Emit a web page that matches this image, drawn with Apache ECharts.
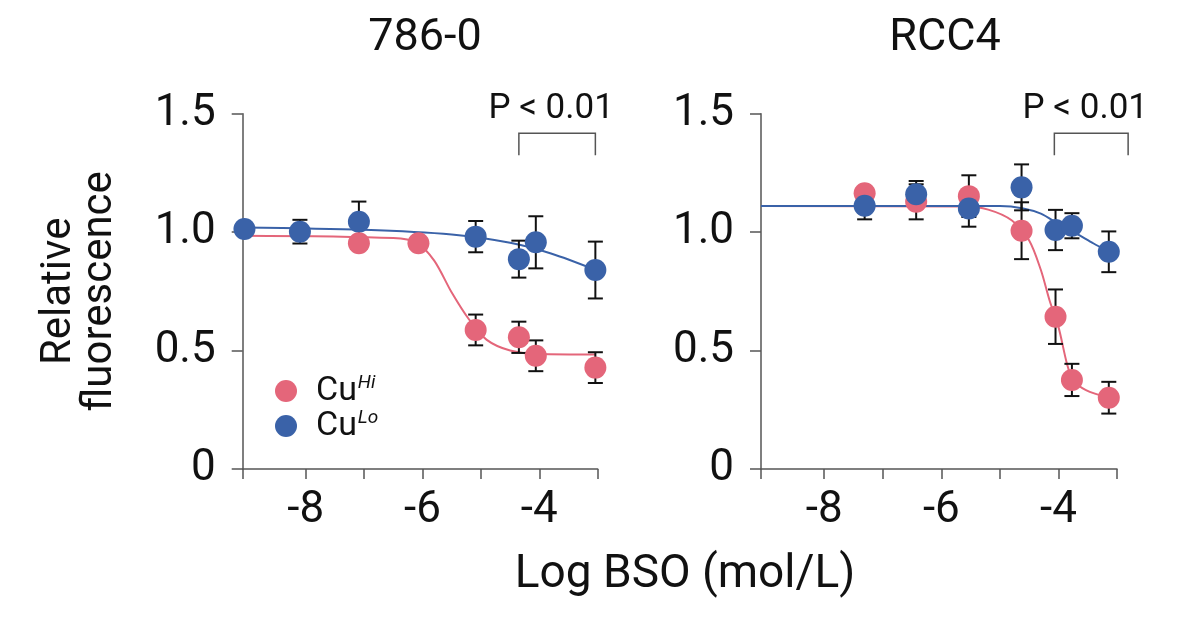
<!DOCTYPE html>
<html>
<head>
<meta charset="UTF-8">
<title>BSO dose response</title>
<script type="text/javascript" src="https://cdn.jsdelivr.net/npm/echarts@6/dist/echarts.min.js"></script>
<style>
  html, body { margin: 0; padding: 0; background: #fff; }
  #chart { width: 1200px; height: 623px; }
</style>
</head>
<body>
<div id="chart"></div>
<script type="text/javascript">
// ---- data ----
var xMin = -9.08, xMax = -3;
var xTicks = [-9.08, -8, -7, -6, -5, -4, -3];
var xLabels = [-8, -6, -4];

// 786-0 panel
var lo786X = [-9.05, -8.1, -7.09, -5.09, -4.35, -4.06, -3.04];
var lo786Y = [1.013, 1.002, 1.044, 0.981, 0.886, 0.957, 0.84];
var lo786Err = [0, 0.05, 0.085, 0.066, 0.078, 0.11, 0.12];
var hi786X = [-7.09, -6.07, -5.09, -4.35, -4.06, -3.04];
var hi786Y = [0.953, 0.953, 0.587, 0.556, 0.478, 0.428];
var hi786Err = [0, 0, 0.065, 0.066, 0.065, 0.065];
var lo786FitX = [-9.08, -7, -5.5, -4.5, -3.8, -3.03];
var lo786FitY = [1.02, 1.01, 0.99, 0.955, 0.91, 0.84];
var hi786FitX = [-9.08, -6.5, -6.1, -5.8, -5.5, -5.2, -4.9, -4.5, -4.0, -3.03];
var hi786FitY = [0.985, 0.975, 0.955, 0.88, 0.745, 0.63, 0.545, 0.5, 0.485, 0.483];

// RCC4 panel
var loRccX = [-7.31, -6.43, -5.53, -4.63, -4.05, -3.77, -3.14];
var loRccY = [1.111, 1.16, 1.1, 1.189, 1.009, 1.027, 0.917];
var loRccErr = [0.057, 0.056, 0.077, 0.097, 0.085, 0.053, 0.086];
var hiRccX = [-7.31, -6.43, -5.53, -4.63, -4.05, -3.77, -3.14];
var hiRccY = [1.164, 1.128, 1.152, 1.006, 0.643, 0.376, 0.301];
var hiRccErr = [0.023, 0.074, 0.088, 0.12, 0.115, 0.068, 0.067];
var loRccFitX = [-9.08, -5.0, -4.6, -4.3, -4.0, -3.7, -3.4, -3.14];
var loRccFitY = [1.11, 1.11, 1.1, 1.078, 1.035, 0.995, 0.952, 0.917];
var hiRccFitX = [-9.08, -5.6, -5.2, -4.8, -4.5, -4.3, -4.15, -4.0, -3.85, -3.75, -3.53, -3.14];
var hiRccFitY = [1.11, 1.108, 1.095, 1.05, 0.965, 0.84, 0.71, 0.6, 0.44, 0.375, 0.333, 0.301];

// significance brackets: [xStart, xEnd, yTop, yLeg, yText]
var p786 = [-4.35, -3.04, 1.417, 1.325, 1.52];
var pRcc = [-4.07, -2.81, 1.417, 1.325, 1.52];
var pText = 'P < 0.01';

var RED = '#e4667a';
var BLUE = '#3a62a8';
var FONT = 'Roboto';

function zip(xs, ys) {
  return xs.map(function (x, i) { return [x, ys[i]]; });
}
function zip3(xs, ys, es) {
  return xs.map(function (x, i) { return [x, ys[i], es[i]]; });
}

var chart = echarts.init(document.getElementById('chart'));

function xAxisFor(idx) {
  return {
    gridIndex: idx, type: 'value', min: xMin, max: xMax,
    axisLine: { show: true, lineStyle: { color: '#555', width: 1.5 } },
    axisTick: { show: true, length: 10, customValues: xTicks, lineStyle: { color: '#555', width: 1.5 } },
    axisLabel: { customValues: xLabels, margin: 20, fontSize: 44, color: '#111', fontFamily: FONT },
    splitLine: { show: false }
  };
}
function yAxisFor(idx, name) {
  return {
    gridIndex: idx, type: 'value', min: 0, max: 1.5, interval: 0.5,
    name: name, nameLocation: 'middle', nameGap: 122, nameRotate: 90,
    nameTextStyle: { fontSize: 42, lineHeight: 41, color: '#111', fontFamily: FONT },
    axisLine: { show: true, lineStyle: { color: '#555', width: 1.5 } },
    axisTick: { show: true, length: 11, lineStyle: { color: '#555', width: 1.5 } },
    axisLabel: {
      margin: 27, fontSize: 44, color: '#111', fontFamily: FONT,
      formatter: function (v) { return v === 0 ? '0' : v.toFixed(1); }
    },
    splitLine: { show: false }
  };
}

function errorBars(idx, data, z) {
  return {
    type: 'custom', xAxisIndex: idx, yAxisIndex: idx, z: z, silent: true,
    data: data,
    renderItem: function (params, api) {
      var e = api.value(2);
      if (!e) return null;
      var top = api.coord([api.value(0), api.value(1) + e]);
      var bot = api.coord([api.value(0), api.value(1) - e]);
      var w = 7.5;
      var st = { stroke: '#111', lineWidth: 2 };
      return {
        type: 'group', children: [
          { type: 'line', shape: { x1: top[0], y1: top[1], x2: bot[0], y2: bot[1] }, style: st },
          { type: 'line', shape: { x1: top[0] - w, y1: top[1], x2: top[0] + w, y2: top[1] }, style: st },
          { type: 'line', shape: { x1: bot[0] - w, y1: bot[1], x2: bot[0] + w, y2: bot[1] }, style: st }
        ]
      };
    }
  };
}

function bracket(idx, p) {
  return {
    type: 'custom', xAxisIndex: idx, yAxisIndex: idx, clip: false, silent: true, z: 5,
    data: [p],
    renderItem: function (params, api) {
      var a = api.coord([api.value(0), api.value(2)]);
      var b = api.coord([api.value(1), api.value(2)]);
      var leg = api.coord([api.value(0), api.value(3)])[1];
      var ty = api.coord([api.value(0), api.value(4)])[1];
      var st = { stroke: '#555', lineWidth: 1.5, fill: null };
      return {
        type: 'group', children: [
          { type: 'polyline', shape: { points: [[a[0], leg], a, b, [b[0], leg]] }, style: st },
          { type: 'text', x: (a[0] + b[0]) / 2 - 6, y: ty,
            style: { text: pText, fontSize: 35, fontFamily: FONT, fill: '#111',
                     align: 'center', verticalAlign: 'middle' } }
        ]
      };
    }
  };
}

function fit(idx, data, color, z) {
  return {
    type: 'line', xAxisIndex: idx, yAxisIndex: idx, data: data, z: z,
    smooth: 0.3, showSymbol: false, silent: true,
    lineStyle: { color: color, width: 2 }
  };
}
function dots(idx, name, data, color, z) {
  return {
    type: 'scatter', name: name, xAxisIndex: idx, yAxisIndex: idx, data: data, z: z,
    symbol: 'circle', symbolSize: 22, itemStyle: { color: color, opacity: 1 }
  };
}

var option = {
  animation: false,
  backgroundColor: '#fff',
  title: [
    { text: '786-0', left: 420, top: 11, textAlign: 'center',
      textStyle: { fontSize: 45, fontWeight: 'normal', color: '#111', fontFamily: FONT } },
    { text: 'RCC4', left: 940, top: 11, textAlign: 'center',
      textStyle: { fontSize: 45, fontWeight: 'normal', color: '#111', fontFamily: FONT } },
    { text: 'Log BSO (mol/L)', left: 680, top: 547, textAlign: 'center',
      textStyle: { fontSize: 46, fontWeight: 'normal', color: '#111', fontFamily: FONT } }
  ],
  legend: {
    orient: 'vertical', left: 270, top: 369, itemWidth: 22, itemHeight: 22, itemGap: 1,
    icon: 'circle', data: ['CuHi', 'CuLo'], selectedMode: false,
    formatter: function (name) {
      return name === 'CuHi' ? '{a|Cu}{b|Hi}' : '{a|Cu}{b|Lo}';
    },
    textStyle: {
      color: '#111', fontFamily: FONT, fontSize: 34,
      rich: {
        a: { fontSize: 34, lineHeight: 34, padding: [0, 0, 0, 14], fontFamily: FONT, color: '#111' },
        b: { fontSize: 19, lineHeight: 34, fontStyle: 'italic', verticalAlign: 'top', fontFamily: FONT, color: '#111', padding: [0, 0, 12, 1] }
      }
    }
  },
  grid: [
    { left: 242.7, top: 113.7, width: 355, height: 355.3 },
    { left: 761, top: 113.7, width: 356, height: 355.3 }
  ],
  xAxis: [xAxisFor(0), xAxisFor(1)],
  yAxis: [yAxisFor(0, 'Relative\nfluorescence'), yAxisFor(1, '')],
  series: [
    fit(0, zip(lo786FitX, lo786FitY), BLUE, 1),
    fit(0, zip(hi786FitX, hi786FitY), RED, 1),
    errorBars(0, zip3(lo786X, lo786Y, lo786Err), 2),
    errorBars(0, zip3(hi786X, hi786Y, hi786Err), 2),
    dots(0, 'CuLo', zip(lo786X, lo786Y), BLUE, 3),
    dots(0, 'CuHi', zip(hi786X, hi786Y), RED, 4),
    bracket(0, p786),

    fit(1, zip(hiRccFitX, hiRccFitY), RED, 1),
    fit(1, zip(loRccFitX, loRccFitY), BLUE, 1),
    errorBars(1, zip3(hiRccX, hiRccY, hiRccErr), 2),
    errorBars(1, zip3(loRccX, loRccY, loRccErr), 2),
    dots(1, 'CuHi', zip(hiRccX, hiRccY), RED, 3),
    dots(1, 'CuLo', zip(loRccX, loRccY), BLUE, 4),
    bracket(1, pRcc)
  ]
};
chart.setOption(option);
</script>
</body>
</html>
